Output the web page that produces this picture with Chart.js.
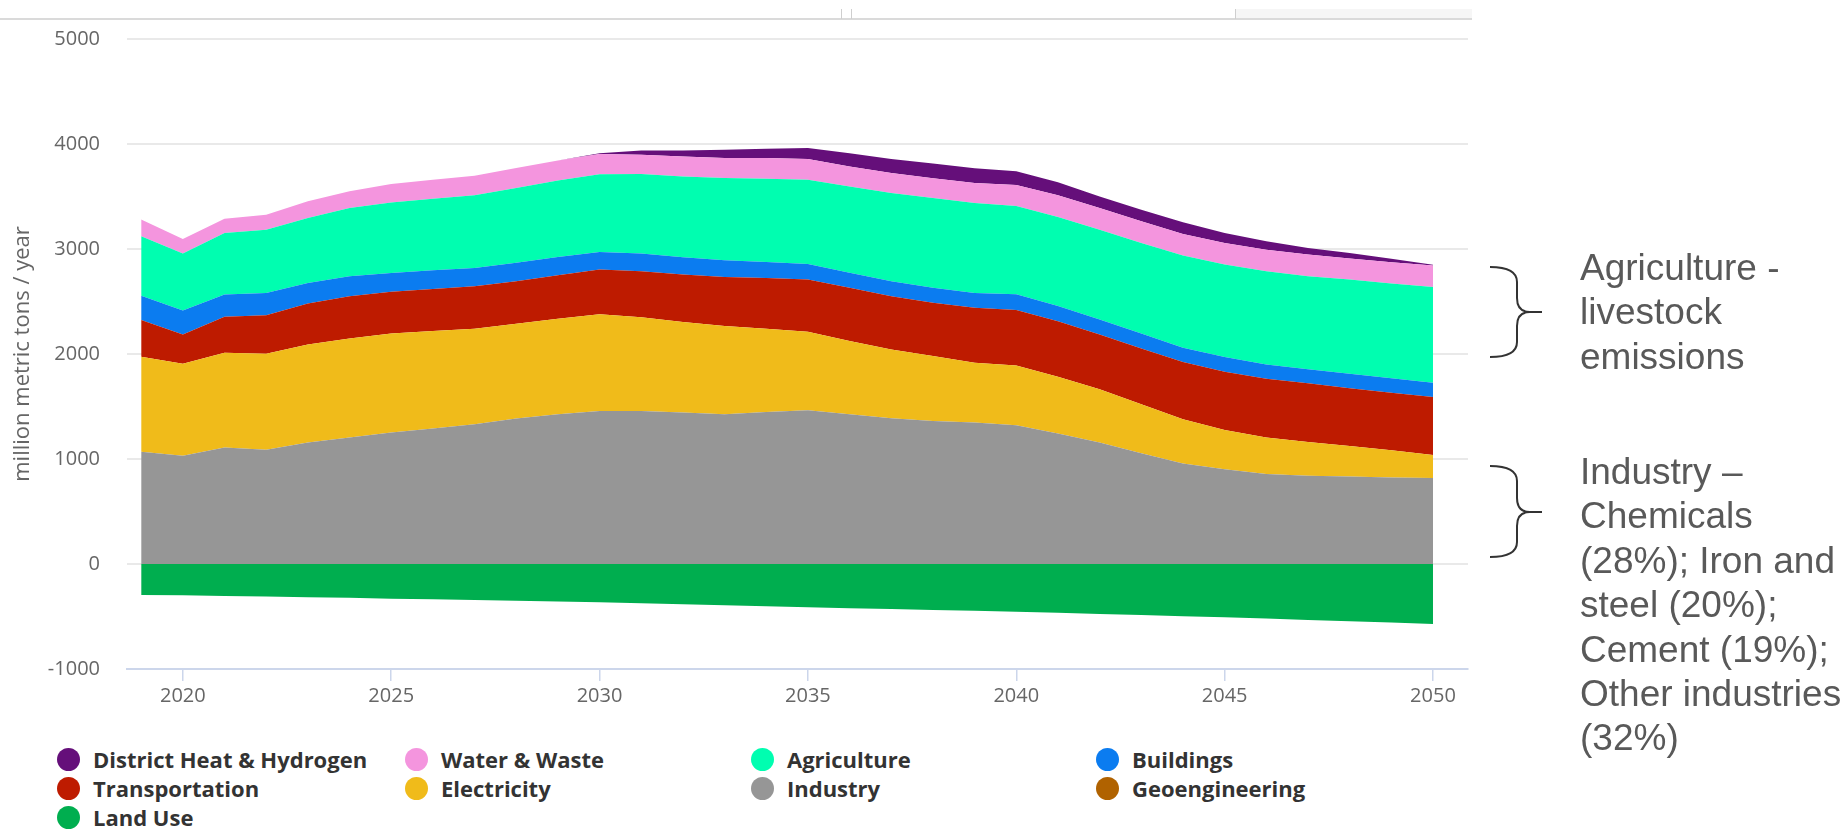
<!DOCTYPE html>
<html lang="en">
<head>
<meta charset="UTF-8" />
<title>Emissions by Sector</title>
<style>
  body {
    margin: 0;
    background: #fff;
    width: 1846px;
    height: 829px;
    overflow: hidden;
    position: relative;
    font-family: "Open Sans", Arial, sans-serif;
  }
  .topline { position: absolute; left: 0; top: 18px; width: 1472px; height: 2px; background: #dadada; }
  .tabmark { position: absolute; top: 9px; width: 1px; height: 10px; background: #cfcfcf; }
  .tabfill { position: absolute; left: 1236px; top: 9px; width: 236px; height: 9px; background: #f6f6f6; }
  #wrap { position: absolute; left: 0; top: 0; width: 1480px; height: 725px; }
  .legend-item {
    position: absolute;
    display: flex;
    align-items: center;
    height: 26px;
    font-weight: 700;
    font-size: 22px;
    color: #333;
    white-space: nowrap;
  }
  .dot { width: 23px; height: 23px; border-radius: 50%; margin-right: 13px; }
  .note {
    position: absolute;
    left: 1580px;
    font-family: "Liberation Sans", Arial, sans-serif;
    font-size: 37px;
    line-height: 44.4px;
    color: #595959;
    white-space: nowrap;
  }
  svg.braces { position: absolute; left: 0; top: 0; }
</style>
<script src="https://cdn.jsdelivr.net/npm/chart.js"></script>
</head>
<body>

<div class="topline"></div>
<div class="tabmark" style="left:841px"></div>
<div class="tabmark" style="left:851px"></div>
<div class="tabmark" style="left:1235px"></div>
<div class="tabfill"></div>

<div id="wrap"><canvas id="emissionsChart" width="1480" height="725"></canvas></div>
<div id="legend"></div>

<svg class="braces" width="1846" height="829">
  <path d="M1490 267 Q1517 267 1517 282 L1517 298 Q1517 312 1530 312 L1542 312 M1530 312 Q1517 312 1517 326 L1517 342 Q1517 357 1490 357"
        fill="none" stroke="#333" stroke-width="2" />
  <path d="M1490 466 Q1517 466 1517 481 L1517 498 Q1517 512 1530 512 L1542 512 M1530 512 Q1517 512 1517 526 L1517 542 Q1517 557 1490 557"
        fill="none" stroke="#333" stroke-width="2" />
</svg>

<div class="note" style="top:246px">Agriculture -<br>livestock<br>emissions</div>
<div class="note" style="top:450px">Industry –<br>Chemicals<br>(28%); Iron and<br>steel (20%);<br>Cement (19%);<br>Other industries<br>(32%)</div>

<script>
  const years = [2019, 2020, 2021, 2022, 2023, 2024, 2025, 2026, 2027, 2028, 2029, 2030,
                 2031, 2032, 2033, 2034, 2035, 2036, 2037, 2038, 2039, 2040,
                 2041, 2042, 2043, 2044, 2045, 2046, 2047, 2048, 2049, 2050];
  const xTicks = [2020, 2025, 2030, 2035, 2040, 2045, 2050];

  // million metric tons / year, per sector
  const industry = [1068, 1030, 1109, 1087, 1157, 1204, 1252, 1290, 1331, 1385, 1426, 1458,
                    1458, 1442, 1426, 1448, 1464, 1426, 1388, 1362, 1347, 1321,
                    1242, 1157, 1055, 957, 903, 856, 840, 833, 824, 818];
  const electricity = [906, 877, 903, 916, 934, 944, 944, 928, 909, 903, 909, 920,
                       893, 862, 840, 792, 748, 697, 656, 618, 570, 569,
                       542, 507, 466, 421, 374, 348, 323, 292, 260, 221];
  const transportation = [349, 279, 342, 367, 390, 403, 396, 402, 406, 405, 415, 426,
                          437, 453, 468, 485, 497, 507, 507, 507, 523, 530,
                          529, 522, 532, 545, 554, 561, 558, 548, 548, 552];
  const buildings = [231, 228, 213, 212, 196, 190, 180, 178, 174, 175, 175, 168,
                     168, 164, 159, 152, 149, 143, 142, 143, 142, 150,
                     143, 143, 143, 137, 140, 136, 133, 139, 136, 136];
  const agriculture = [567, 542, 586, 602, 618, 649, 672, 681, 691, 712, 728, 740,
                       758, 770, 783, 792, 802, 823, 840, 855, 856, 840,
                       849, 855, 862, 877, 881, 887, 887, 897, 903, 912];
  const waterWaste = [159, 140, 136, 143, 159, 159, 175, 181, 187, 191, 190, 192,
                      183, 191, 190, 197, 196, 190, 190, 190, 190, 200,
                      206, 206, 206, 206, 206, 206, 206, 200, 203, 203];
  const districtHeat = [0, 0, 0, 0, 0, 0, 0, 0, 0, 0, 0, 8,
                        42, 57, 79, 88, 105, 125, 135, 140, 140, 130,
                        124, 111, 111, 111, 95, 79, 63, 54, 32, 8];
  const geoengineering = [0, 0, 0, 0, 0, 0, 0, 0, 0, 0, 0, 0,
                          0, 0, 0, 0, 0, 0, 0, 0, 0, 0,
                          0, 0, 0, 0, 0, 0, 0, 0, 0, 0];
  const landUse = [-295, -298, -304, -310, -316, -322, -330, -336, -343, -350, -357, -365,
                   -374, -383, -393, -403, -413, -421, -429, -437, -445, -454,
                   -465, -475, -486, -497, -508, -520, -533, -545, -558, -571];

  const series = [
    { label: 'Industry', data: industry, color: '#969696', fill: 'origin' },
    { label: 'Electricity', data: electricity, color: '#f0bb1a', fill: '-1' },
    { label: 'Transportation', data: transportation, color: '#be1b00', fill: '-1' },
    { label: 'Buildings', data: buildings, color: '#0b7cf0', fill: '-1' },
    { label: 'Agriculture', data: agriculture, color: '#00feb0', fill: '-1' },
    { label: 'Water & Waste', data: waterWaste, color: '#f495de', fill: '-1' },
    { label: 'District Heat & Hydrogen', data: districtHeat, color: '#650f7a', fill: '-1' },
    { label: 'Geoengineering', data: geoengineering, color: '#b06200', fill: '-1' },
    { label: 'Land Use', data: landUse, color: '#00ae4f', fill: 'origin' }
  ];

  const legendOrder = ['District Heat & Hydrogen', 'Water & Waste', 'Agriculture', 'Buildings',
                       'Transportation', 'Electricity', 'Industry', 'Geoengineering', 'Land Use'];

  const tickFont = { family: '"Open Sans", Arial, sans-serif', size: 20 };

  new Chart(document.getElementById('emissionsChart'), {
    type: 'line',
    data: {
      labels: years,
      datasets: series.map(s => ({
        label: s.label,
        data: s.data,
        backgroundColor: s.color,
        borderColor: 'rgba(0,0,0,0)',
        borderWidth: 0,
        pointRadius: 0,
        fill: s.fill,
        tension: 0
      }))
    },
    options: {
      responsive: false,
      animation: false,
      layout: { padding: { top: 38, right: 12, left: 0, bottom: 0 } },
      plugins: {
        legend: { display: false },
        tooltip: { enabled: false }
      },
      scales: {
        x: {
          type: 'linear',
          min: 2018.66,
          max: 2050.84,
          afterBuildTicks: scale => { scale.ticks = xTicks.map(v => ({ value: v })); },
          afterFit: scale => { scale.height = 56; },
          grid: { drawOnChartArea: false, drawTicks: true, tickLength: 12, color: '#ccd6eb', lineWidth: 1.5 },
          border: { color: '#ccd6eb', width: 2 },
          ticks: { color: '#666', font: tickFont, padding: 3, maxRotation: 0, callback: v => String(v) }
        },
        y: {
          stacked: true,
          min: -1000,
          max: 5000,
          afterFit: scale => { scale.width = 127; },
          grid: { color: '#e9e9e9', lineWidth: 2, drawTicks: false },
          border: { display: false },
          ticks: { stepSize: 1000, color: '#666', font: tickFont, padding: 27, callback: v => String(v) },
          title: {
            display: true,
            text: 'million metric tons / year',
            color: '#666',
            font: { family: '"Open Sans", Arial, sans-serif', size: 22 },
            padding: { top: 10, bottom: 0 }
          }
        }
      }
    }
  });

  // legend in four columns, like the original
  const colLeft = [57, 405, 751, 1096];
  const rowTop = [746, 775, 804];
  const legend = document.getElementById('legend');
  legendOrder.forEach((name, i) => {
    const s = series.find(d => d.label === name);
    const item = document.createElement('div');
    item.className = 'legend-item';
    item.style.left = colLeft[i % 4] + 'px';
    item.style.top = rowTop[Math.floor(i / 4)] + 'px';
    item.innerHTML = `<span class="dot" style="background:${s.color}"></span>${name}`;
    legend.appendChild(item);
  });
</script>

</body>
</html>
